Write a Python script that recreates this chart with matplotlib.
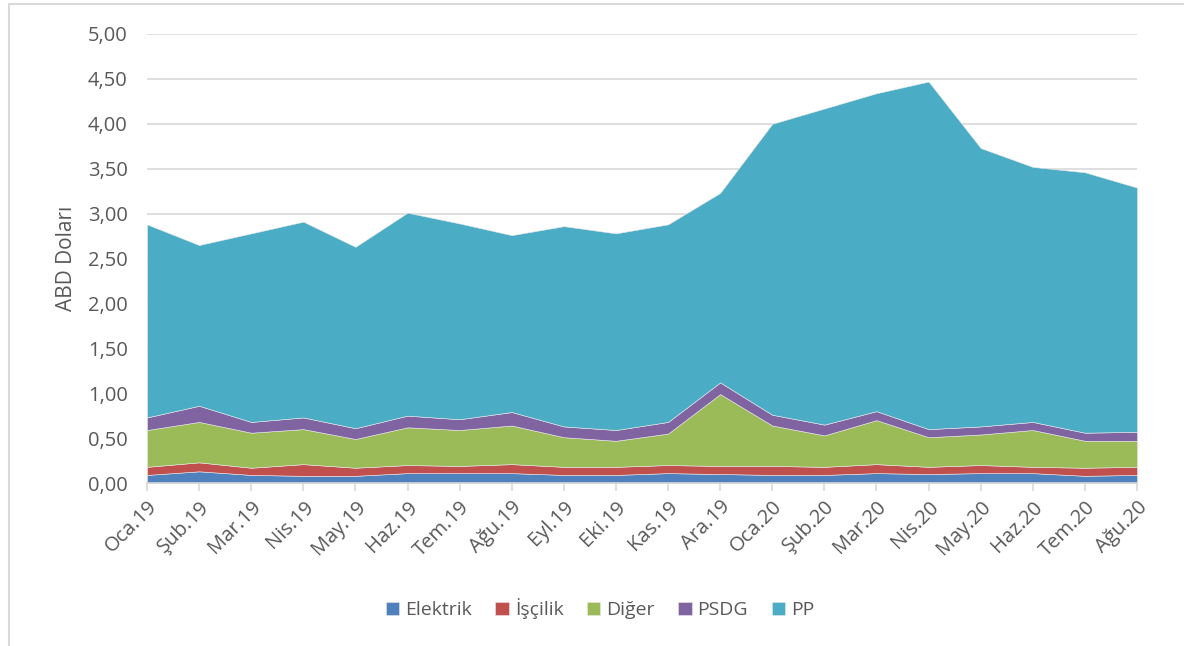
import numpy as np
import matplotlib.pyplot as plt
from matplotlib.patches import Rectangle

months = ['Oca.19', 'Şub.19', 'Mar.19', 'Nis.19', 'May.19', 'Haz.19', 'Tem.19',
          'Ağu.19', 'Eyl.19', 'Eki.19', 'Kas.19', 'Ara.19', 'Oca.20', 'Şub.20',
          'Mar.20', 'Nis.20', 'May.20', 'Haz.20', 'Tem.20', 'Ağu.20']

elektrik = [0.09, 0.13, 0.09, 0.08, 0.08, 0.11, 0.11, 0.11, 0.09, 0.09,
            0.11, 0.10, 0.09, 0.09, 0.11, 0.10, 0.11, 0.11, 0.08, 0.09]
iscilik = [0.09, 0.10, 0.08, 0.13, 0.09, 0.09, 0.08, 0.10, 0.09, 0.09,
           0.09, 0.09, 0.10, 0.09, 0.10, 0.08, 0.09, 0.07, 0.09, 0.09]
diger = [0.41, 0.45, 0.39, 0.39, 0.32, 0.42, 0.40, 0.43, 0.33, 0.29,
         0.35, 0.80, 0.45, 0.35, 0.49, 0.33, 0.34, 0.41, 0.30, 0.29]
psdg = [0.14, 0.18, 0.12, 0.13, 0.12, 0.13, 0.12, 0.15, 0.12, 0.12,
        0.13, 0.13, 0.12, 0.12, 0.10, 0.09, 0.09, 0.09, 0.09, 0.10]
total = [2.88, 2.65, 2.78, 2.91, 2.63, 3.01, 2.89, 2.76, 2.86, 2.78,
         2.88, 3.23, 4.00, 4.17, 4.34, 4.47, 3.73, 3.52, 3.46, 3.29]
pp = [t - (a + b + c + d) for t, a, b, c, d in zip(total, elektrik, iscilik, diger, psdg)]

labels = ['Elektrik', 'İşçilik', 'Diğer', 'PSDG', 'PP']
colors = ['#4F81BD', '#C0504D', '#9BBB59', '#8064A2', '#4BACC6']
yticks = np.arange(0, 5.01, 0.5)

GRID = '#d9d9d9'
TXT = '#595959'
plt.rcParams['font.family'] = ['Open Sans', 'DejaVu Sans']

fig = plt.figure(figsize=(11.84, 6.46), dpi=100)
ax = fig.add_axes([147 / 1184, 1 - 483 / 646, 990 / 1184, 449 / 646])

x = np.arange(len(months))
ax.stackplot(x, elektrik, iscilik, diger, psdg, pp, colors=colors, labels=labels,
             edgecolor='#e8e8e8', linewidth=0.4, zorder=2)

ax.set_xlim(0, len(months) - 1)
ax.set_ylim(0, 5)
ax.set_yticks(yticks)
ax.set_yticklabels([f'{v:.2f}'.replace('.', ',') for v in yticks], fontsize=14.5, color=TXT)
ax.set_xticks(x)
ax.set_xticklabels(months, rotation=45, ha='right', rotation_mode='anchor',
                   fontsize=14.5, color=TXT)
ax.tick_params(axis='y', length=0, pad=14)
ax.tick_params(axis='x', length=6, color=GRID, width=1.2, pad=4)
ax.grid(axis='y', color=GRID, linewidth=1.2, zorder=0)
ax.set_axisbelow(True)
for s in ['top', 'right', 'left']:
    ax.spines[s].set_visible(False)
ax.spines['bottom'].set_color(GRID)
ax.spines['bottom'].set_linewidth(1.2)
ax.spines['bottom'].set_zorder(3)

ax.set_ylabel('ABD Doları', fontsize=15, color=TXT, labelpad=8)

ax.legend(loc='center', bbox_to_anchor=(600 / 1184, 1 - 609 / 646),
          bbox_transform=fig.transFigure, ncol=5, frameon=False, fontsize=14,
          labelcolor=TXT, handlelength=0.7, handleheight=0.7, handletextpad=0.3,
          columnspacing=1.2)

fig.patches.append(Rectangle((9 / 1184, -0.05), 1.2, 1 - 4 / 646 + 0.05,
                             transform=fig.transFigure, fill=False,
                             edgecolor=GRID, linewidth=1.5))

plt.savefig('out.png', dpi=100, facecolor='white')
